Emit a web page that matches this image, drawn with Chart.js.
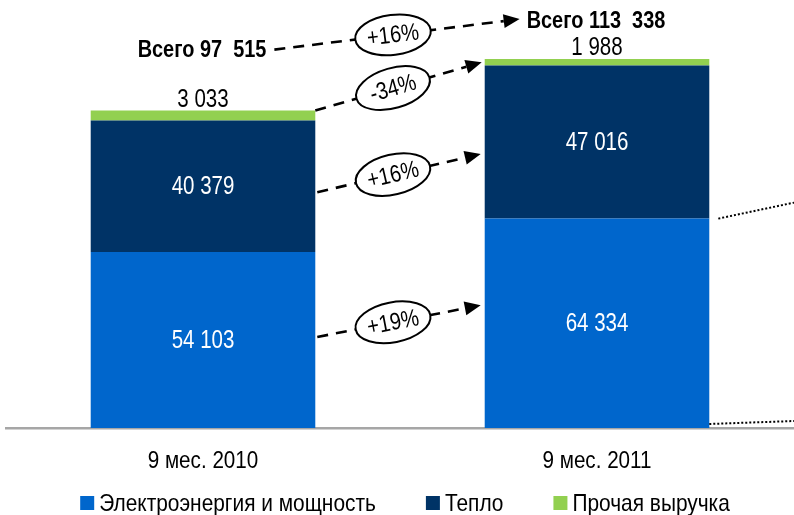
<!DOCTYPE html>
<html>
<head>
<meta charset="utf-8">
<script src="https://cdn.jsdelivr.net/npm/chart.js@4.4.1/dist/chart.umd.min.js"></script>
<style>
  html, body { margin: 0; padding: 0; background: #ffffff; }
  #wrap { width: 794px; height: 515px; position: relative; }
</style>
</head>
<body>
<div id="wrap"><canvas id="c" width="794" height="515"></canvas></div>
<script>
// ---- data ----
const categories = ['9 мес. 2010', '9 мес. 2011'];
const seriesNames = ['Электроэнергия и мощность', 'Тепло', 'Прочая выручка'];
const electricity = [54103, 64334];
const heat = [40379, 47016];
const other = [3033, 1988];
const totals = [97515, 113338];
const totalPrefix = 'Всего';
const changeElectricity = '+19%';
const changeHeat = '+16%';
const changeOther = '-34%';
const changeTotal = '+16%';

const FONT = "'Liberation Sans', Arial, sans-serif";
const COLORS = ['#0066CC', '#003366', '#92D050'];

function fmt(v, sep) {
  return String(v).replace(/\B(?=(\d{3})+(?!\d))/g, sep || ' ');
}

// draw horizontally condensed text (narrow look)
function ntext(ctx, s, x, y, font, align, sx, color) {
  ctx.save();
  ctx.font = font;
  ctx.fillStyle = color || '#000';
  ctx.textBaseline = 'middle';
  ctx.textAlign = align;
  ctx.translate(x, y);
  ctx.scale(sx, 1);
  ctx.fillText(s, 0, 0);
  ctx.restore();
}
function nwidth(ctx, s, font, sx) {
  ctx.save();
  ctx.font = font;
  const w = ctx.measureText(s).width * sx;
  ctx.restore();
  return w;
}

function dashedArrow(ctx, x1, y1, x2, y2, label) {
  const ang = Math.atan2(y2 - y1, x2 - x1);
  const head = 16, hw = 7;
  const ex = x2 - head * Math.cos(ang), ey = y2 - head * Math.sin(ang);
  ctx.save();
  ctx.strokeStyle = '#000';
  ctx.lineWidth = 2.6;
  ctx.setLineDash([11, 8]);
  ctx.beginPath();
  ctx.moveTo(x1, y1);
  ctx.lineTo(ex, ey);
  ctx.stroke();
  ctx.setLineDash([]);
  ctx.fillStyle = '#000';
  ctx.beginPath();
  ctx.moveTo(x2, y2);
  ctx.lineTo(ex + hw * Math.sin(ang), ey - hw * Math.cos(ang));
  ctx.lineTo(ex - hw * Math.sin(ang), ey + hw * Math.cos(ang));
  ctx.closePath();
  ctx.fill();
  if (label) {
    const cx = 393;
    const t = (cx - x1) / (x2 - x1);
    const cy = y1 + (y2 - y1) * t;
    ctx.translate(cx, cy);
    ctx.rotate(ang);
    ctx.beginPath();
    ctx.ellipse(0, 0, 38, 20, 0, 0, Math.PI * 2);
    ctx.fillStyle = '#fff';
    ctx.fill();
    ctx.lineWidth = 2;
    ctx.strokeStyle = '#000';
    ctx.stroke();
    ntext(ctx, label, 0, 1, '24px ' + FONT, 'center', 0.84, '#000');
  }
  ctx.restore();
}

const annotations = {
  id: 'annotations',
  afterDatasetsDraw(chart) {
    const ctx = chart.ctx;
    const m0 = chart.getDatasetMeta(0).data;
    const m1 = chart.getDatasetMeta(1).data;
    const m2 = chart.getDatasetMeta(2).data;
    const valFont = '25px ' + FONT;
    // value labels inside bars
    [[m0, electricity], [m1, heat]].forEach(([els, vals]) => {
      els.forEach((el, i) => {
        ntext(ctx, fmt(vals[i]), el.x, (el.y + el.base) / 2 + 1, valFont, 'center', 0.82, '#ffffff');
      });
    });
    m2.forEach((el, i) => {
      ntext(ctx, fmt(other[i]), el.x, el.y - 11, valFont, 'center', 0.82, '#000');
    });
    // totals
    const totFont = 'bold 24px ' + FONT;
    const totalOffsets = [60, 38];
    const totalBoxes = [];
    m2.forEach((el, i) => {
      const s = totalPrefix + ' ' + fmt(totals[i], ' ').replace(' ', '  ');
      const w = nwidth(ctx, s, totFont, 0.83);
      const y = el.y - totalOffsets[i];
      ntext(ctx, s, el.x - 1, y, totFont, 'center', 0.83, '#000');
      totalBoxes.push({ l: el.x - 1 - w / 2, r: el.x - 1 + w / 2, y: y });
    });

    const b1r = m0[0].x + m0[0].width / 2;
    const b2l = m0[1].x - m0[1].width / 2;
    const b2r = m0[1].x + m0[1].width / 2;
    dashedArrow(ctx, totalBoxes[0].r + 8, totalBoxes[0].y - 1, totalBoxes[1].l - 7, totalBoxes[1].y - 2, changeTotal);
    dashedArrow(ctx, b1r, m2[0].y, b2l - 3, (m2[1].y + m2[1].base) / 2, changeOther);
    dashedArrow(ctx, b1r + 2, (m1[0].y + m1[0].base) / 2 + 6, b2l - 4, (m1[1].y + m1[1].base) / 2 + 12, changeHeat);
    dashedArrow(ctx, b1r + 2, (m0[0].y + m0[0].base) / 2 - 3, b2l - 4, (m0[1].y + m0[1].base) / 2 - 18, changeElectricity);

    // dotted connectors on the right
    ctx.save();
    ctx.strokeStyle = '#000';
    ctx.lineWidth = 2;
    ctx.setLineDash([2, 2]);
    ctx.beginPath();
    ctx.moveTo(b2r + 9, m0[1].y);
    ctx.lineTo(chart.width, m0[1].y - 16);
    ctx.moveTo(b2r, m0[1].base - 4);
    ctx.lineTo(chart.width, m0[1].base - 7);
    ctx.stroke();
    ctx.restore();
  },
  afterDraw(chart) {
    const ctx = chart.ctx;
    const xs = chart.scales.x;
    const area = chart.chartArea;
    // category labels
    const tickFont = '24px ' + FONT;
    categories.forEach((c, i) => {
      ntext(ctx, c, xs.getPixelForValue(i), area.bottom + 33, tickFont, 'center', 0.86, '#000');
    });
    // legend
    const legFont = '24px ' + FONT;
    const sx = 0.87, box = 14, gapBT = 5, gapItems = 50;
    const widths = seriesNames.map(n => nwidth(ctx, n, legFont, sx));
    const total = widths.reduce((a, w) => a + box + gapBT + w, 0) + gapItems * (seriesNames.length - 1);
    let x = 405 - total / 2;
    const y = area.bottom + 75;
    seriesNames.forEach((n, i) => {
      ctx.fillStyle = chart.data.datasets[i].backgroundColor;
      ctx.fillRect(x, y - box / 2, box, box);
      x += box + gapBT;
      ntext(ctx, n, x, y + 1, legFont, 'left', sx, '#000');
      x += widths[i] + gapItems;
    });
  }
};

Chart.defaults.font.family = FONT;
Chart.defaults.color = '#000';

new Chart(document.getElementById('c'), {
  type: 'bar',
  data: {
    labels: categories,
    datasets: [
      { label: seriesNames[0], data: electricity, backgroundColor: COLORS[0] },
      { label: seriesNames[1], data: heat, backgroundColor: COLORS[1] },
      { label: seriesNames[2], data: other, backgroundColor: COLORS[2] }
    ]
  },
  options: {
    responsive: false,
    animation: false,
    devicePixelRatio: 1,
    layout: { padding: { left: 6, right: -2, top: 0, bottom: 87 } },
    datasets: { bar: { barPercentage: 0.57, categoryPercentage: 1 } },
    scales: {
      x: {
        stacked: true,
        grid: { display: false, drawTicks: false },
        border: { display: true, color: '#a6a6a6', width: 2.5 },
        ticks: { display: false }
      },
      y: {
        stacked: true,
        display: false,
        min: 0,
        max: 131500
      }
    },
    plugins: {
      legend: { display: false },
      tooltip: { enabled: false }
    }
  },
  plugins: [annotations]
});
</script>
</body>
</html>
